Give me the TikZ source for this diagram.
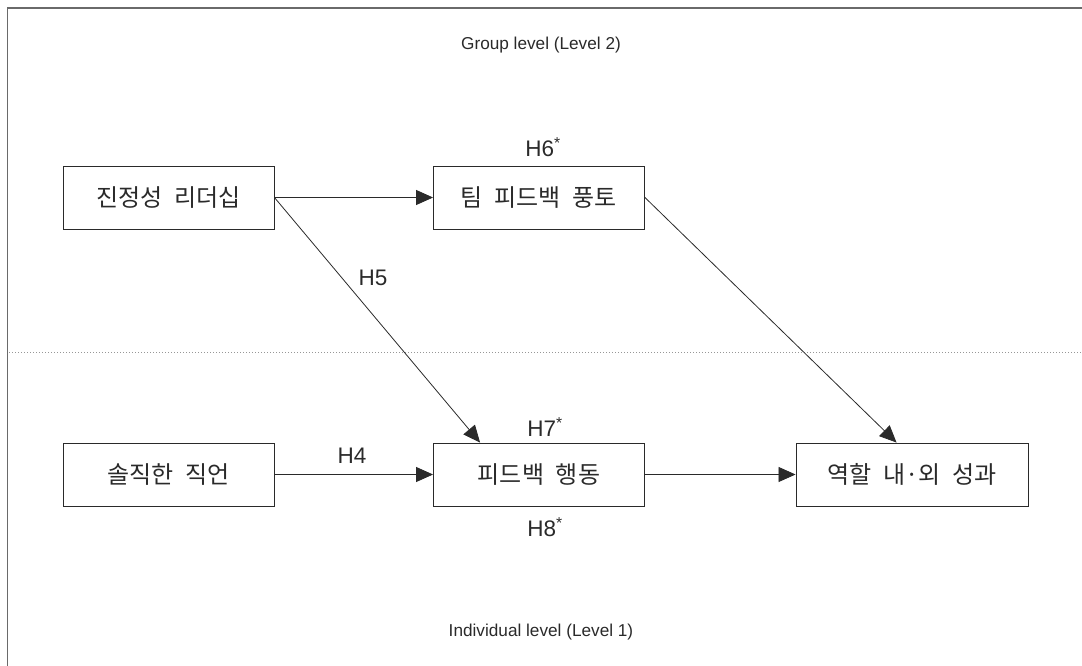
\documentclass[tikz,border=0pt]{standalone}
\usepackage{fontspec}
\setmainfont{Liberation Sans}
\newfontfamily\kr[WordSpace=2.2]{Noto Sans CJK KR}
\usetikzlibrary{arrows.meta}
\definecolor{ink}{HTML}{2A2A2A}
\definecolor{frame}{HTML}{6A6A6A}
\tikzset{
  box/.style={draw=ink, line width=0.9pt, minimum width=211pt, minimum height=63pt, inner sep=0pt, font=\kr\fontsize{24}{28}\selectfont, text=ink},
  conn/.style={draw=ink, line width=0.8pt, -{Triangle[length=17pt,width=15pt]}},
  hlab/.style={font=\fontsize{22.5}{26}\selectfont, text=ink, inner sep=0pt},
  lvl/.style={font=\fontsize{17.2}{20}\selectfont, text=ink, inner sep=0pt}
}
\begin{document}
\begin{tikzpicture}[x=1pt,y=-1pt]
\useasboundingbox (0,0) rectangle (1082,666);
% frame
\draw[frame, line width=1.6pt] (7.5,666) -- (7.5,8) -- (1082,8);
\draw[frame!70, line width=1pt, dotted] (9,352) -- (1082,352);
% nodes
\node[box] (lead) at (168.5,197.5) {진정성 리더십};
\node[box] (clim) at (539,197.5) {팀 피드백 풍토};
\node[box] (cand) at (168.5,474.5) {솔직한 직언};
\node[box] (fb) at (539,474.5) {피드백 행동};
\node[box, minimum width=232pt] (out) at (912,474.5) {역할 내·외 성과};
% connectors
\draw[conn] (lead.east) -- (clim.west);
\draw[conn] (lead.east) -- ([xshift=47pt]fb.north west);
\draw[conn] (clim.east) -- ([xshift=101pt]out.north west);
\draw[conn] (cand.east) -- (fb.west);
\draw[conn] (fb.east) -- (out.west);
% labels
\node[lvl] (g) at (541,45) {Group level (Level 2)};
\node[lvl] (i) at (541,632) {Individual level (Level 1)};
\node[hlab] (h6) at (543,147) {H6\textsuperscript{*}};
\node[hlab] (h5) at (373,278) {H5};
\node[hlab] (h7) at (545,427) {H7\textsuperscript{*}};
\node[hlab] (h8) at (545,527) {H8\textsuperscript{*}};
\node[hlab] (h4) at (352,456) {H4};
\end{tikzpicture}
\end{document}
